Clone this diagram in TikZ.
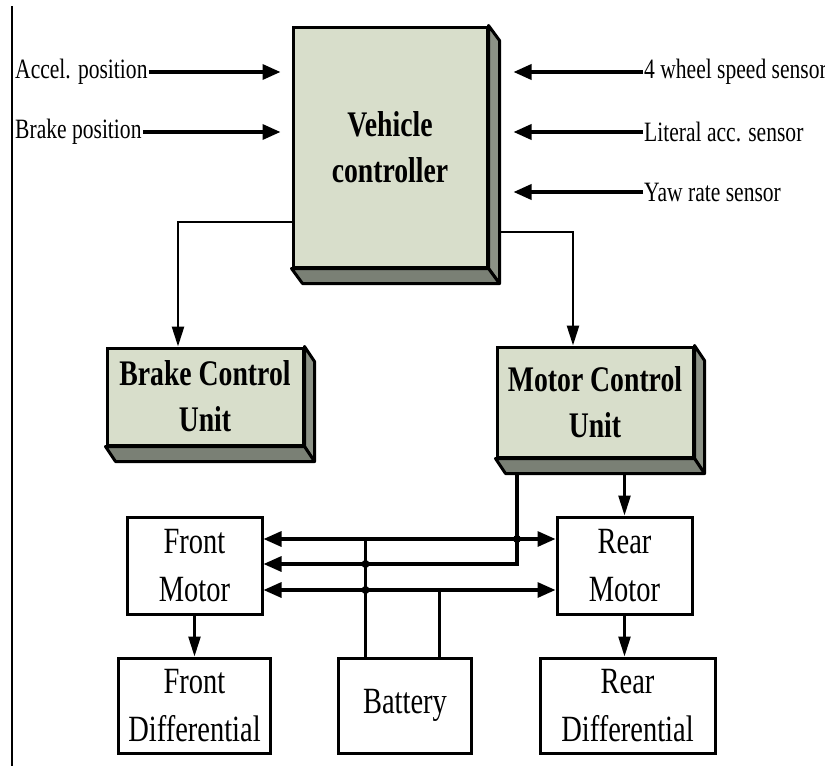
\documentclass[tikz,border=0pt]{standalone}
\usepackage{fontspec}
\setmainfont{Liberation Serif}[FakeStretch=0.77]
\usetikzlibrary{positioning}
\usetikzlibrary{arrows.meta}
\usetikzlibrary{calc}

\definecolor{faceGreen}{RGB}{216,222,203}
\definecolor{sideGray}{RGB}{140,146,134}
\definecolor{bottomGray}{RGB}{122,128,117}

\tikzset{%
	% Specifications for style of nodes:
	base/.style = {rectangle, draw=black, line width=3pt,
		inner sep=0pt, align=center},
	unit3d/.style = {base, fill=faceGreen,
		font=\fontsize{36}{46}\selectfont\bfseries},
	part/.style = {base, fill=white, minimum width=135pt, minimum height=97pt,
		font=\fontsize{37}{48}\selectfont},
	signal/.style = {inner sep=1pt, font=\fontsize{28}{34}\selectfont},
	joint/.style = {circle, fill=black, inner sep=0pt, minimum size=8pt},
	% Faces that give the controllers their depth:
	sideface/.style = {fill=sideGray, draw=black, line width=3pt, line join=round},
	bottomface/.style = {fill=bottomGray, draw=black, line width=3pt, line join=round},
	% Connectors:
	feed/.style = {line width=3.5pt, -{Triangle[length=18pt,width=15pt]}},
	bus/.style = {line width=3.2pt,
		{Triangle[length=18pt,width=15pt]}-{Triangle[length=18pt,width=15pt]}},
	drop/.style = {line width=2.5pt, -{Triangle[length=20pt,width=12pt]}},
	wire/.style = {line width=3pt},
}

\begin{document}
\begin{tikzpicture}[x=1pt, y=-1pt, node distance=41pt]
\useasboundingbox (0,0) rectangle (825,766);
\draw[line width=2pt] (12,6) -- (12,766);

% controllers
\node (vc) [unit3d, minimum width=194pt, minimum height=240pt] at (390,147) {Vehicle\\controller};
\node (bcu) [unit3d, minimum width=196pt, minimum height=97pt] at (205,396.5) {Brake Control\\Unit};
\node (mcu) [unit3d, minimum width=196pt, minimum height=110pt] at (595,402) {Motor Control\\Unit};
\filldraw[sideface] (vc.north east) -- ++(11,15) -- ($(vc.south east)+(11,15)$) -- (vc.south east) -- cycle;
\filldraw[bottomface] (vc.south west) -- ++(11,15) -- ($(vc.south east)+(11,15)$) -- (vc.south east) -- cycle;
\filldraw[sideface] (bcu.north east) -- ++(10,15) -- ($(bcu.south east)+(10,15)$) -- (bcu.south east) -- cycle;
\filldraw[bottomface] (bcu.south west) -- ++(10,15) -- ($(bcu.south east)+(10,15)$) -- (bcu.south east) -- cycle;
\filldraw[sideface] (mcu.north east) -- ++(10,15) -- ($(mcu.south east)+(10,15)$) -- (mcu.south east) -- cycle;
\filldraw[bottomface] (mcu.south west) -- ++(10,15) -- ($(mcu.south east)+(10,15)$) -- (mcu.south east) -- cycle;

% pedals and sensors
\node (accel) [signal, anchor=west] at (14,72) {Accel. position};
\node (brake) [signal, anchor=west] at (14,132) {Brake position};
\node (wheel) [signal, anchor=west] at (643,72) {4 wheel speed sensor};
\node (lat) [signal, anchor=west] at (643,132) {Literal acc. sensor};
\node (yaw) [signal, anchor=west] at (643,192) {Yaw rate sensor};
\draw[feed, shorten >=11pt] (accel.east) -- (accel.east -| vc.west);
\draw[feed, shorten >=11pt] (brake.east) -- (brake.east -| vc.west);
\draw[feed, shorten >=25pt] (wheel.west) -- (wheel.west -| vc.east);
\draw[feed, shorten >=25pt] (lat.west) -- (lat.west -| vc.east);
\draw[feed, shorten >=25pt] (yaw.west) -- (yaw.west -| vc.east);

% commands to the units
\draw[drop] ([yshift=-75pt]vc.west) -| ([xshift=-27pt]bcu.north);
\draw[drop] ([xshift=11pt,yshift=-85pt]vc.east) -| ([xshift=-22pt]mcu.north);

% drive train
\node (fm) [part] at (194.5,565.5) {Front\\Motor};
\node (rm) [part] at (624.5,565.5) {Rear\\Motor};
\node (fd) [part, minimum width=152pt, minimum height=95pt, below=of fm] {Front\\Differential};
\node (bat) [part, minimum width=133pt, minimum height=95pt, right=65pt of fd] {Battery};
\node (rd) [part, minimum width=175pt, minimum height=95pt, below=of rm, xshift=3pt] {Rear\\Differential};
\draw[drop] (fm.south) -- (fd.north);
\draw[drop] (rm.south) -- (rm.south |- rd.north);

\coordinate (mcuBase) at ([yshift=-15pt]mcu.south);
\coordinate (mcuTap) at ([xshift=-78pt]mcuBase);
\coordinate (busTop) at ([yshift=26.5pt]fm.east);
\coordinate (busMid) at ([yshift=1.5pt]fm.east);
\coordinate (busLow) at ([yshift=-24.5pt]fm.east);
\coordinate (batL) at ([xshift=-39.5pt]bat.north);
\coordinate (batR) at ([xshift=34.5pt]bat.north);

\draw[drop] (mcuBase -| rm.north) -- (rm.north);
\draw[bus] (busTop) -- (busTop -| rm.west);
\draw[feed, line width=3.2pt] (mcuTap) |- (busMid);
\draw[bus] (busLow) -- (busLow -| rm.west);
\draw[wire] (batL) -- (batL |- busTop);
\draw[wire] (batR) -- (batR |- busLow);
\node (dotA) [joint] at (mcuTap |- busTop) {};
\node (dotB) [joint] at (batL |- busMid) {};
\node (dotC) [joint] at (batL |- busLow) {};
\end{tikzpicture}
\end{document}
